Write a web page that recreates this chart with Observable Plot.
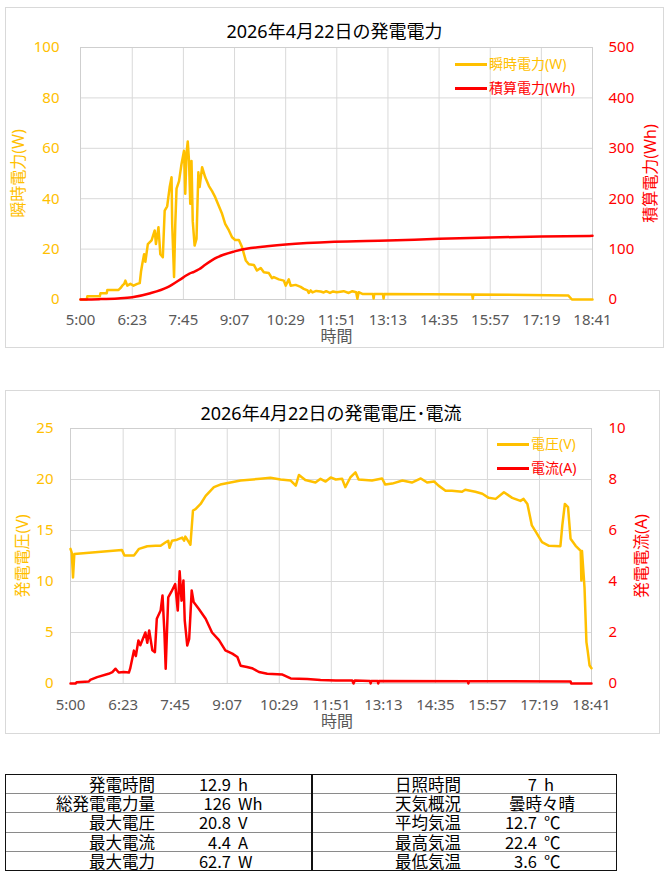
<!DOCTYPE html>
<html><head><meta charset="utf-8">
<script src="https://cdn.jsdelivr.net/npm/d3@7"></script>
<script src="https://cdn.jsdelivr.net/npm/@observablehq/plot@0.6"></script>
<style>
body{margin:0;background:#fff;width:669px;height:886px;position:relative;overflow:hidden;font-family:"Noto Sans","Noto Sans CJK JP",sans-serif;}
.box{position:absolute;border:1px solid #d9d9d9;box-sizing:border-box;background:#fff;}
.chart{position:absolute;}
.leg{position:absolute;font-size:14px;line-height:20px;white-space:nowrap;display:flex;align-items:center;font-family:"Noto Sans","Noto Sans CJK JP",sans-serif;}
.leg .sw{display:inline-block;width:32px;height:3px;margin-right:2px;}
#tbl{position:absolute;left:5px;top:774px;width:612px;height:97px;border:1.5px solid #111;box-sizing:border-box;}
.row{position:absolute;left:0;width:100%;height:19.2px;box-sizing:border-box;}
.row.sep{border-bottom:1px solid #8a8a8a;}
.cell{position:absolute;top:0;height:18px;line-height:18px;white-space:nowrap;font-family:"Liberation Sans Narrow","Noto Sans CJK JP",sans-serif;font-size:16.5px;color:#000;}
.lab{font-family:"Noto Sans CJK JP",sans-serif;font-size:16.5px;text-align:right;}
.num{display:inline-block;width:70px;text-align:right;}
.unit{margin-left:7px;}
#vdiv{position:absolute;left:305px;top:0;width:1.5px;height:100%;background:#111;}
</style></head><body>
<script>
// ---------- data ----------
const xTickLabels = ["5:00","6:23","7:45","9:07","10:29","11:51","13:13","14:35","15:57","17:19","18:41"];

const instantPowerW = [
["5:00",0],["5:10",0],["5:11",1.3],["5:31",1.3],["5:32",2.5],["5:42",2.5],["5:43",3.8],["6:01",3.8],
["6:04",4.5],["6:07",5.5],["6:10",6.2],["6:12",7.5],["6:15",5.5],["6:20",6.2],["6:25",5.5],["6:31",6.2],
["6:35",6.5],["6:37",11],["6:39",14],["6:42",18],["6:44",15],["6:48",22],["6:54",23.5],["6:59",27.4],
["7:01",22],["7:05",28.7],["7:08",18],["7:12",16.8],["7:15",35.3],["7:19",37],["7:23",44.6],["7:26",48.5],
["7:27",30],["7:30",8.9],["7:32",30],["7:34",44],["7:38",47],["7:42",53.8],["7:46",59],["7:48",42],
["7:50",58],["7:52",62.7],["7:54",55],["7:56",38],["7:58",55],["8:00",31],["8:03",21.4],["8:06",24],
["8:09",50.5],["8:11",44.6],["8:15",52.5],["8:20",48.5],["8:26",45],["8:31",43],["8:36",40.6],["8:42",37],
["8:47",34],["8:52",30],["8:58",27.4],["9:03",24.7],["9:08",23.6],["9:14",23.6],["9:19",20.8],["9:25",15.5],
["9:30",14],["9:38",13.7],["9:43",11.5],["9:49",12.5],["9:54",10.8],["10:02",10.5],["10:07",8.5],["10:10",8.9],
["10:18",8],["10:26",7.5],["10:29",5.5],["10:34",8],["10:37",5.5],["10:45",5.8],["10:53",5],["10:58",4.2],
["11:04",3.6],["11:06",2.6],["11:09",3.6],["11:12",2.8],["11:18",3.4],["11:25",3.2],["11:30",2.8],["11:34",3.3],
["11:40",2.6],["11:45",3.2],["11:51",2.9],["12:02",3.3],["12:10",2.6],["12:16",3.3],["12:22",2.9],["12:24",0.3],
["12:26",2.9],["12:32",2.2],["12:49",2.2],["12:50",0.4],["12:51",2.2],["13:05",2.2],["13:06",0.4],["13:07",2.2],
["15:28",2.0],["15:29",0.3],["15:30",2.0],["18:02",1.6],["18:08",0],["18:41",0]
];

const cumulativeWh = [
["5:00",0],["5:30",0.7],["6:00",2.2],["6:23",4.6],["6:52",12.5],["7:19",24],["7:45",44],["7:54",51],
["8:02",55],["8:10",60],["8:20",69],["8:39",83.5],["9:07",95.4],["9:33",102],["9:59",105.5],["10:29",109],
["11:47",114.5],["13:13",117],["14:35",120.4],["15:57",123],["17:19",125],["18:41",126.3]
];

const voltageV = [
["5:00",13.2],["5:02",12.8],["5:04",10.4],["5:06",12.7],["6:21",13.1],["6:25",12.55],["6:40",12.55],["6:48",13.2],
["7:01",13.46],["7:14",13.5],["7:22",13.5],["7:30",13.85],["7:34",14.0],["7:36",13.3],["7:40",14.0],["7:48",14.1],
["7:56",14.3],["7:59",14.0],["8:01",14.4],["8:05",14.0],["8:09",13.6],["8:13",16.96],["8:17",17.1],["8:25",17.6],
["8:33",18.4],["8:46",19.25],["8:56",19.5],["9:12",19.7],["9:28",19.9],["9:59",20.07],["10:15",20.17],["10:31",20.0],
["10:47",19.9],["10:55",19.4],["11:00",20.45],["11:10",19.95],["11:26",19.7],["11:34",20.07],["11:42",19.8],["11:50",20.2],
["11:58",20.0],["12:08",20.07],["12:13",19.25],["12:21",20.2],["12:29",20.7],["12:34",20.0],["12:55",19.9],["13:11",20.1],
["13:16",19.5],["13:27",19.6],["13:43",19.9],["13:58",19.7],["14:12",20.1],["14:22",19.7],["14:33",19.8],["14:40",19.4],
["14:51",18.9],["15:01",18.9],["15:17",18.8],["15:22",19.0],["15:38",18.8],["15:49",18.6],["15:59",18.2],["16:10",18.1],
["16:23",18.75],["16:36",18.2],["16:49",17.9],["16:54",18.1],["17:00",17.6],["17:07",15.5],["17:15",14.7],["17:23",13.85],
["17:34",13.5],["17:52",13.46],["17:55",15.5],["17:59",17.6],["18:04",17.3],["18:08",14.2],["18:16",13.5],["18:24",13.0],
["18:25",10.1],["18:26",13.0],["18:30",9.4],["18:33",4.05],["18:35",3.2],["18:38",1.76],["18:41",1.5]
];

const currentA = [
["5:00",0],["5:08",0],["5:10",0.05],["5:29",0.08],["5:31",0.14],["5:42",0.25],["6:00",0.38],["6:06",0.45],
["6:11",0.58],["6:16",0.43],["6:24",0.45],["6:32",0.43],["6:34",0.58],["6:40",1.29],["6:43",1.08],["6:47",1.69],
["6:50",1.5],["6:58",2.0],["7:01",1.6],["7:04",2.08],["7:09",1.3],["7:13",1.23],["7:16",2.54],["7:22",2.86],
["7:25",3.45],["7:28",2.0],["7:30",0.58],["7:32",2.0],["7:34",3.38],["7:39",3.6],["7:45",3.9],["7:49",2.86],
["7:52",4.4],["7:55",3.25],["7:58",4.04],["8:00",2.48],["8:04",1.49],["8:07",1.75],["8:11",3.65],["8:14",3.2],
["8:22",2.93],["8:33",2.54],["8:43",2.0],["8:54",1.7],["9:04",1.3],["9:15",1.17],["9:23",1.04],["9:28",0.7],
["9:38",0.65],["9:46",0.6],["9:57",0.45],["10:10",0.38],["10:34",0.35],["10:47",0.2],["11:13",0.18],["11:34",0.14],
["11:58",0.12],["12:24",0.12],["12:26",0.0],["12:28",0.12],["12:52",0.1],["12:53",0.0],["12:54",0.1],["13:04",0.1],
["13:05",0.0],["13:06",0.1],["15:26",0.09],["15:27",0.0],["15:28",0.09],["18:08",0.08],["18:09",0],["18:41",0]
];

const statLabelsL = ["発電時間","総発電電力量","最大電圧","最大電流","最大電力"];
const statValuesL = ["12.9","126","20.8","4.4","62.7"];
const statUnitsL  = ["h","Wh","V","A","W"];
const statLabelsR = ["日照時間","天気概況","平均気温","最高気温","最低気温"];
const statValuesR = ["7","曇時々晴","12.7","22.4","3.6"];
const statUnitsR  = ["h","","℃","℃","℃"];

// ---------- helpers ----------
const ORANGE = "#FFC000", RED = "#FF0000";
const FONT = '"Noto Sans","Noto Sans CJK JP",sans-serif';
const toMin = s => { const [h, m] = s.split(":").map(Number); return h * 60 + m; };
const xTicks = xTickLabels.map(toMin);
const labelOf = new Map(xTicks.map((t, i) => [t, xTickLabels[i]]));

function makeChart(c) {
  const box = document.createElement("div");
  box.className = "box";
  Object.assign(box.style, {left: c.left + "px", top: c.top + "px", width: c.width + "px", height: c.height + "px"});
  document.body.appendChild(box);

  const k = c.yMax / c.y2Max;
  const yTicks = d3.range(0, c.yMax + 1e-9, c.yStep);
  const y2Ticks = d3.range(0, c.y2Max + 1e-9, c.y2Step);
  const svg = Plot.plot({
    width: c.width, height: c.height,
    marginTop: c.m[0], marginRight: c.m[1], marginBottom: c.m[2], marginLeft: c.m[3],
    x: {domain: [xTicks[0], xTicks[xTicks.length - 1]]},
    y: {domain: [0, c.yMax]},
    style: {fontFamily: FONT, fontSize: "15px", background: "transparent", overflow: "visible"},
    marks: [
      Plot.gridX(xTicks, {stroke: "#d9d9d9", strokeOpacity: 1}),
      Plot.gridY(yTicks, {stroke: "#d9d9d9", strokeOpacity: 1}),
      Plot.frame({stroke: "#cfcfcf"}),
      Plot.axisX(xTicks, {tickSize: 0, tickPadding: c.padX, tickFormat: d => labelOf.get(d), fill: "#595959", fontSize: 15, label: null}),
      Plot.axisY(yTicks, {anchor: "left", tickSize: 0, tickPadding: c.padL, fill: ORANGE, fontSize: 15, label: null}),
      Plot.axisY(y2Ticks.map(v => v * k), {anchor: "right", tickSize: 0, tickPadding: c.padR, tickFormat: d => String(Math.round(d / k)), fill: RED, fontSize: 15, label: null}),
      Plot.text([c.title], {frameAnchor: "top", lineAnchor: "middle", textAnchor: "middle", dy: c.titleDy, dx: c.titleDx, text: d => d, fontSize: 18, fill: "#000"}),
      Plot.text(["時間"], {frameAnchor: "bottom", lineAnchor: "middle", textAnchor: "middle", dy: c.xlabDy, dx: c.xlabDx, text: d => d, fontSize: 16, fill: "#595959"}),
      Plot.text([c.ylabel], {frameAnchor: "left", lineAnchor: "middle", textAnchor: "middle", dx: c.ylabDx, rotate: -90, text: d => d, fontSize: 16, fill: ORANGE}),
      Plot.text([c.y2label], {frameAnchor: "right", lineAnchor: "middle", textAnchor: "middle", dx: c.y2labDx, rotate: -90, text: d => d, fontSize: 16, fill: RED}),
      Plot.line(c.s1, {x: d => toMin(d[0]), y: d => d[1], stroke: ORANGE, strokeWidth: 2.5, strokeLinejoin: "round"}),
      Plot.line(c.s2, {x: d => toMin(d[0]), y: d => d[1] * k, stroke: RED, strokeWidth: 2.5, curve: c.curve2, strokeLinejoin: "round"})
    ]
  });
  svg.classList.add("chart");
  svg.style.position = "absolute";
  svg.style.left = c.left + "px";
  svg.style.top = c.top + "px";
  document.body.appendChild(svg);

  c.legend.forEach(([name, color], i) => {
    const lg = document.createElement("div");
    lg.className = "leg";
    lg.style.left = c.legX + "px";
    lg.style.top = (c.legY + i * 24 - 10) + "px";
    lg.style.color = color;
    lg.innerHTML = `<span class="sw" style="background:${color}"></span><span>${name}</span>`;
    document.body.appendChild(lg);
  });
}

makeChart({
  left: 5, top: 7, width: 659, height: 341, m: [40, 72, 49, 75],
  yMax: 100, yStep: 20, y2Max: 500, y2Step: 100,
  padX: 15, padL: 21, padR: 16,
  title: "2026年4月22日の発電電力", titleDy: -15, titleDx: -2,
  xlabDy: 37, xlabDx: 0,
  ylabel: "瞬時電力(W)", ylabDx: -62,
  y2label: "積算電力(Wh)", y2labDx: 58,
  s1: instantPowerW, s2: cumulativeWh, curve2: "monotone-x",
  legend: [["瞬時電力(W)", ORANGE], ["積算電力(Wh)", RED]], legX: 455, legY: 64
});

makeChart({
  left: 5, top: 390, width: 655, height: 344, m: [38, 69, 51, 65],
  yMax: 25, yStep: 5, y2Max: 10, y2Step: 2,
  padX: 16, padL: 17, padR: 17,
  title: "2026年4月22日の発電電圧･電流", titleDy: -14, titleDx: 0,
  xlabDy: 38, xlabDx: 6,
  ylabel: "発電電圧(V)", ylabDx: -48,
  y2label: "発電電流(A)", y2labDx: 50,
  s1: voltageV, s2: currentA, curve2: "linear",
  legend: [["電圧(V)", ORANGE], ["電流(A)", RED]], legX: 497, legY: 444
});

// ---------- table ----------
const tbl = document.createElement("div");
tbl.id = "tbl";
document.body.appendChild(tbl);
statLabelsL.forEach((lab, i) => {
  const row = document.createElement("div");
  row.className = "row" + (i < statLabelsL.length - 1 ? " sep" : "");
  row.style.top = (i * 19.2) + "px";
  const vR = statUnitsR[i] === ""
    ? `<span style="display:inline-block;padding-left:42px">${statValuesR[i]}</span>`
    : `<span class="num">${statValuesR[i]}</span><span class="unit">${statUnitsR[i]}</span>`;
  row.innerHTML =
    `<div class="cell lab" style="left:0;width:149px">${lab}</div>` +
    `<div class="cell" style="left:155px"><span class="num">${statValuesL[i]}</span><span class="unit">${statUnitsL[i]}</span></div>` +
    `<div class="cell lab" style="left:306px;width:149px">${statLabelsR[i]}</div>` +
    `<div class="cell" style="left:461px">${vR}</div>`;
  tbl.appendChild(row);
});
const vd = document.createElement("div");
vd.id = "vdiv";
tbl.appendChild(vd);
</script>
</body></html>
